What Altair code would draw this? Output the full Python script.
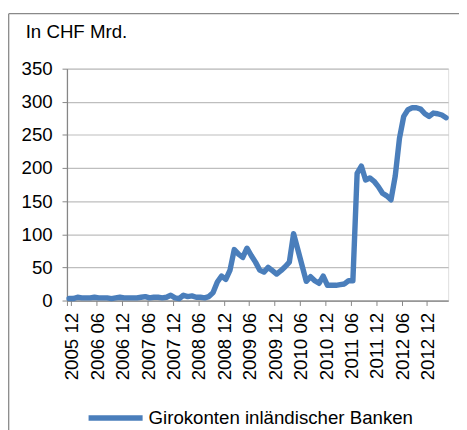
import altair as alt
import pandas as pd

FONT = "Liberation Sans"

# monthly categories 2005-12 .. 2013-05
start_year, start_month, n_months = 2005, 12, 90
months = []
y, m = start_year, start_month
for _ in range(n_months):
    months.append(f"{y} {m:02d}")
    m += 1
    if m > 12:
        m = 1
        y += 1

values = [
    3, 3, 5, 4, 4, 4, 5, 4, 4, 4, 3, 4,          # 2005-12 .. 2006-11
    5, 4, 4, 4, 4, 5, 6, 4, 5, 5, 4, 5,          # 2006-12 .. 2007-11
    8, 4, 3, 8, 6, 7, 5, 5, 4, 6, 12, 28,        # 2007-12 .. 2008-11
    37, 32, 46, 77, 70, 65, 79, 68, 58, 46, 43, 50,   # 2008-12 .. 2009-11
    45, 40, 45, 51, 58, 101, 77, 53, 29, 36, 30, 26,  # 2009-12 .. 2010-11
    37, 23, 23, 23, 24, 25, 30, 30, 192, 203, 182, 185,  # 2010-12 .. 2011-11
    180, 172, 162, 158, 152, 188, 245, 278, 288, 291, 291, 289,  # 2011-12 .. 2012-11
    282, 278, 283, 282, 280, 276,                # 2012-12 .. 2013-05
]
series_name = "Girokonten inländischer Banken"
y_ticks = [0, 50, 100, 150, 200, 250, 300, 350]
label_months = months[::6]

df = pd.DataFrame({"month": months, "value": values, "series": [series_name] * len(months)})

line = alt.Chart(df).mark_line(strokeWidth=5.5, strokeJoin="round", strokeCap="round").encode(
    x=alt.X(
        "month:O",
        sort=None,
        scale=alt.Scale(type="band", paddingInner=0, paddingOuter=0),
        axis=alt.Axis(
            values=label_months, title=None, tickBand="extent", labelAngle=270,
            labelFont=FONT, labelFontSize=19, labelColor="#000000", labelPadding=7,
            labelOffset=3,
            tickSize=5, tickColor="#868686", domainColor="#868686", domainWidth=1.3,
            grid=False, labelOverlap=False,
        ),
    ),
    y=alt.Y(
        "value:Q",
        scale=alt.Scale(domain=[0, 350], nice=False),
        axis=alt.Axis(
            values=y_ticks, title=None, grid=True, gridColor="#BEBEBE", gridWidth=1.2,
            labelFont=FONT, labelFontSize=19, labelColor="#000000", labelPadding=10,
            tickSize=5, tickColor="#868686", domainColor="#868686", domainWidth=1.3,
        ),
    ),
    color=alt.Color(
        "series:N",
        scale=alt.Scale(range=["#4A7EBB"]),
        legend=alt.Legend(
            title=None, orient="none", legendX=19, legendY=325, symbolType="stroke",
            symbolSize=3025, symbolStrokeWidth=5.5, labelFont=FONT, labelFontSize=19,
            labelColor="#000000", labelOffset=3, padding=0, labelLimit=400,
        ),
    ),
)

frame_df = pd.DataFrame({"k": [0]})
frame_left = alt.Chart(frame_df).mark_rule(color="#898989", strokeWidth=1.3).encode(
    x=alt.value(-59.3), y=alt.value(-56), y2=alt.value(420)
)
frame_top = alt.Chart(frame_df).mark_rule(color="#898989", strokeWidth=1.3).encode(
    x=alt.value(-59.3), x2=alt.value(420), y=alt.value(-56)
)

chart = alt.layer(frame_left, frame_top, line).properties(
    width=388,
    height=236,
    autosize=alt.AutoSizeParams(type="none"),
    padding={"left": 60, "top": 58, "right": 11, "bottom": 128},
    title=alt.Title(
        "In CHF Mrd.", anchor="start", frame="group", dx=-42, offset=0, dy=44.5,
        baseline="alphabetic", font=FONT, fontSize=19, fontWeight="normal", color="#000000",
    ),
).configure_view(stroke=None).configure(background="white")

chart.save("out.html", embed_options={"renderer": "svg", "actions": False})
